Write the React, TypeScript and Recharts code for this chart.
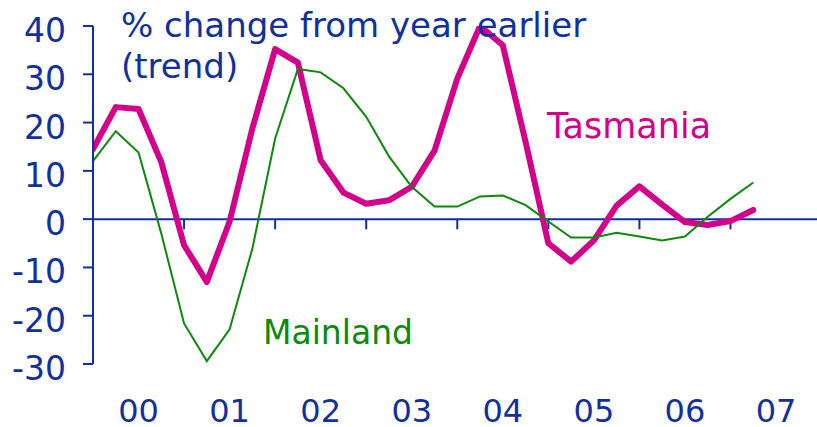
import { LineChart, Line, XAxis, YAxis, ReferenceLine } from "recharts";

// quarterly, % change from year earlier (trend)
const years = ["00", "01", "02", "03", "04", "05", "06", "07"];

const tasmania = [
  14.5, 23.2, 22.8, 11.8, -5.4, -13.0, -0.5, 18.8, 35.2, 32.4, 12.2, 5.5, 3.2,
  3.9, 6.7, 14.2, 29.1, 40.0, 36.0, 16.0, -5.0, -8.8, -4.4, 2.8, 6.8, 3.0, -0.6,
  -1.2, -0.4, 1.9,
];

const mainland = [
  12.0, 18.2, 13.8, -3.0, -21.6, -29.4, -22.8, -6.1, 16.7, 31.1, 30.4, 27.1,
  21.2, 13.0, 6.7, 2.6, 2.6, 4.7, 4.9, 2.9, -0.5, -3.8, -3.8, -2.8, -3.6, -4.4,
  -3.6, 0.5, 4.2, 7.6,
];

const yTicks = [-30, -20, -10, 0, 10, 20, 30, 40];

const BLUE = "#1030A0";
const MAGENTA = "#D4008C";
const GREEN = "#0C8A0C";
const FONT = "'DejaVu Sans', Verdana, sans-serif";

const rows = tasmania.map((t, i) => ({ q: i, tas: t, main: mainland[i] }));

// year boundaries every 4 quarters, labels centred mid-year
const yearStarts = years.map((_, i) => i * 4).filter((q) => q > 0 && q < rows.length);
const labelTicks = years.map((_, i) => i * 4 + 2);

function XTick({ x, y, payload }: any) {
  const label = years[(payload.value - 2) / 4];
  return (
    <text x={x} y={y + 58} textAnchor="middle" fill={BLUE} fontSize={32} fontFamily={FONT}>
      {label}
    </text>
  );
}

function YTick({ x, y, payload }: any) {
  return (
    <text x={x} y={y + 16} textAnchor="end" fill={BLUE} fontSize={33} fontFamily={FONT}>
      {payload.value}
    </text>
  );
}

export default function App() {
  return (
    <div
      style={{
        position: "fixed",
        left: 0,
        top: 0,
        width: 817,
        height: 427,
        background: "#fff",
      }}
    >
      <LineChart
        width={817}
        height={427}
        data={rows}
        margin={{ top: 26, right: 0, bottom: 0, left: 0 }}
      >
        <XAxis
          dataKey="q"
          type="number"
          domain={[0, 31.8]}
          ticks={labelTicks}
          interval={0}
          height={63}
          axisLine={false}
          tickLine={false}
          tickSize={0}
          tickMargin={0}
          tick={XTick}
          allowDataOverflow
        />
        <YAxis
          domain={[-30, 40]}
          ticks={yTicks}
          interval={0}
          width={93}
          axisLine={{ stroke: BLUE, strokeWidth: 2 }}
          tickLine={{ stroke: BLUE, strokeWidth: 2 }}
          tickSize={10}
          tickMargin={17}
          tick={YTick}
          allowDataOverflow
        />
        <ReferenceLine y={0} stroke={BLUE} strokeWidth={2} />
        {yearStarts.map((q) => (
          <ReferenceLine
            key={q}
            segment={[
              { x: q, y: 0 },
              { x: q, y: -2.1 },
            ]}
            stroke={BLUE}
            strokeWidth={2}
          />
        ))}
        <Line
          type="linear"
          dataKey="tas"
          stroke={MAGENTA}
          strokeWidth={6}
          strokeLinejoin="round"
          strokeLinecap="round"
          dot={false}
          activeDot={false}
          isAnimationActive={false}
        />
        <Line
          type="linear"
          dataKey="main"
          stroke={GREEN}
          strokeWidth={2}
          dot={false}
          activeDot={false}
          isAnimationActive={false}
        />
      </LineChart>
      <svg
        width={817}
        height={427}
        style={{ position: "absolute", left: 0, top: 0, pointerEvents: "none" }}
      >
        <g fontFamily={FONT}>
          <text x={121} y={37} fill={BLUE} fontSize={34}>
            % change from year earlier
          </text>
          <text x={121} y={78} fill={BLUE} fontSize={34}>
            (trend)
          </text>
          <text x={547} y={138} fill={MAGENTA} fontSize={35}>
            Tasmania
          </text>
          <text x={263} y={344} fill={GREEN} fontSize={33}>
            Mainland
          </text>
        </g>
      </svg>
    </div>
  );
}
